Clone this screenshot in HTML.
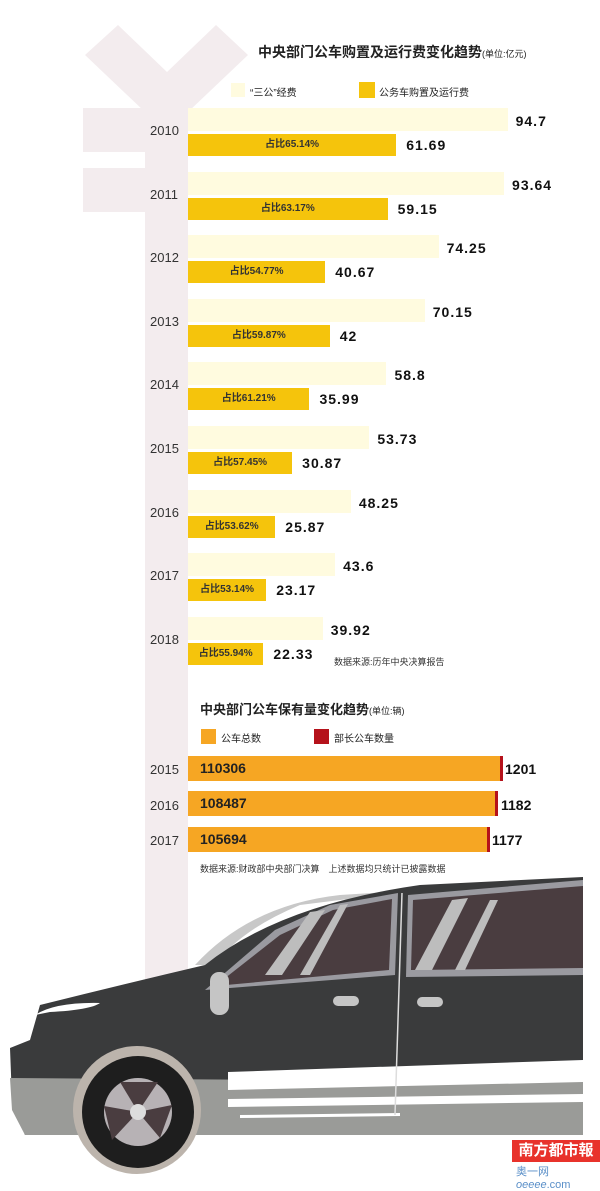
<!DOCTYPE html>
<html><head><meta charset="utf-8">
<style>
*{margin:0;padding:0;box-sizing:border-box}
body{width:600px;height:1180px;background:#fff;position:relative;overflow:hidden;font-family:"Liberation Sans","Noto Sans CJK SC",sans-serif;color:#222}
.a{position:absolute}
.yr{position:absolute;left:150px;font-size:13px;color:#333}
.lb{position:absolute;left:188px;height:23px;background:#fffbdf}
.yb{position:absolute;left:188px;height:22px;background:#f5c40c;font-size:10px;font-weight:bold;color:#333;line-height:22px;text-align:center}
.v{position:absolute;font-size:14px;font-weight:bold;letter-spacing:1px;color:#111}
.ob{position:absolute;left:188px;height:25px;background:#f6a623;font-size:14px;font-weight:bold;line-height:25px;padding-left:12px;color:#222}
.rb{position:absolute;top:0;right:-3px;width:3px;height:100%;background:#b5121b}
.ov{position:absolute;font-size:14px;font-weight:bold;color:#111}
</style></head><body>
<svg class="a" style="left:0;top:0" width="600" height="1180">
<g fill="#f3ecee">
<polygon points="85,55 118,25 167,72 216,25 248,55 188,112 145,112"/>
<rect x="145" y="100" width="43" height="880"/>
<rect x="83" y="108" width="105" height="44"/>
<rect x="83" y="168" width="105" height="44"/>
</g>
</svg>
<div class="a" style="left:258px;top:42px;font-size:14px;font-weight:bold">中央部门公车购置及运行费变化趋势<span style="font-size:9px;font-weight:normal">(单位:亿元)</span></div>
<div class="a" style="left:231px;top:83px;width:14px;height:14px;background:#fffbdf"></div>
<div class="a" style="left:250px;top:84px;font-size:10px">“三公”经费</div>
<div class="a" style="left:359px;top:82px;width:16px;height:16px;background:#f5c40c"></div>
<div class="a" style="left:379px;top:84px;font-size:10px">公务车购置及运行费</div>

<div id="rows"></div>
<script>
var d=[[2010,94.7,61.69,"65.14%"],[2011,93.64,59.15,"63.17%"],[2012,74.25,40.67,"54.77%"],[2013,70.15,42,"59.87%"],[2014,58.8,35.99,"61.21%"],[2015,53.73,30.87,"57.45%"],[2016,48.25,25.87,"53.62%"],[2017,43.6,23.17,"53.14%"],[2018,39.92,22.33,"55.94%"]];
var h="",s=3.375;
d.forEach(function(r,i){var t=108+i*63.6;var w1=r[1]*s,w2=r[2]*s;
h+='<div class="yr" style="top:'+(t+15)+'px">'+r[0]+'</div>';
h+='<div class="lb" style="top:'+t+'px;width:'+w1+'px"></div>';
h+='<div class="v" style="left:'+(188+w1+8)+'px;top:'+(t+5)+'px">'+r[1]+'</div>';
h+='<div class="yb" style="top:'+(t+26)+'px;width:'+w2+'px">占比'+r[3]+'</div>';
h+='<div class="v" style="left:'+(188+w2+10)+'px;top:'+(t+29)+'px">'+r[2]+'</div>';});
document.getElementById("rows").innerHTML=h;
</script>
<div class="a" style="left:334px;top:655px;font-size:9px;color:#333">数据来源:历年中央决算报告</div>

<div class="a" style="left:200px;top:699px;font-size:13px;font-weight:bold">中央部门公车保有量变化趋势<span style="font-size:9px;font-weight:normal">(单位:辆)</span></div>
<div class="a" style="left:201px;top:729px;width:15px;height:15px;background:#f6a623"></div>
<div class="a" style="left:221px;top:730px;font-size:10px">公车总数</div>
<div class="a" style="left:314px;top:729px;width:15px;height:15px;background:#b5121b"></div>
<div class="a" style="left:334px;top:730px;font-size:10px">部长公车数量</div>

<div class="yr" style="top:762px">2015</div>
<div class="ob" style="top:756px;width:312px">110306<div class="rb"></div></div>
<div class="ov" style="left:505px;top:761px">1201</div>
<div class="yr" style="top:798px">2016</div>
<div class="ob" style="top:791px;width:307px">108487<div class="rb"></div></div>
<div class="ov" style="left:501px;top:797px">1182</div>
<div class="yr" style="top:833px">2017</div>
<div class="ob" style="top:827px;width:299px">105694<div class="rb"></div></div>
<div class="ov" style="left:492px;top:832px">1177</div>
<div class="a" style="left:200px;top:862px;font-size:9px;color:#333">数据来源:财政部中央部门决算　上述数据均只统计已披露数据</div>

<svg class="a" style="left:0;top:0" width="600" height="1180">
<!-- roof crescent -->
<path d="M195,965 Q250,905 340,895 L420,890 L300,905 Q240,930 215,965Z" fill="#c8c8c8"/>
<!-- body -->
<path d="M10,1048 L30,1040 L40,1005 Q120,985 205,965 Q280,905 420,885 L583,877 L583,1135 L25,1135 L12,1100Z" fill="#3a3b3c"/>
<!-- headlight cut -->
<path d="M35,1015 Q55,1002 100,1003 Q90,1010 50,1012Z" fill="#fff"/>
<!-- lower gray band -->
<path d="M10,1078 L583,1082 L583,1135 L25,1135 L12,1110Z" fill="#9a9b98"/>
<!-- white stripes -->
<polygon points="228,1072 583,1060 583,1082 228,1090" fill="#fff"/>
<polygon points="228,1099 583,1094 583,1102 228,1107" fill="#fff"/>
<polygon points="240,1115 400,1113 400,1116 240,1118" fill="#fff"/>
<!-- front window -->
<polygon points="205,990 275,930 330,905 398,893 395,975" fill="#9a9aa0"/>
<polygon points="215,986 280,935 333,910 392,899 389,970" fill="#4a3d40"/>
<polygon points="265,975 310,912 325,910 282,975" fill="#bdbdbd"/>
<polygon points="300,975 340,905 348,904 310,975" fill="#bdbdbd"/>
<!-- rear window -->
<polygon points="408,895 583,880 583,975 406,977" fill="#9a9aa0"/>
<polygon points="413,900 583,886 583,968 411,970" fill="#4a3d40"/>
<polygon points="415,970 452,900 468,898 432,970" fill="#bdbdbd"/>
<polygon points="455,970 490,900 498,900 465,970" fill="#bdbdbd"/>
<!-- mirror -->
<rect x="210" y="972" width="19" height="43" rx="9" fill="#c5c5c5"/>
<rect x="333" y="996" width="26" height="10" rx="5" fill="#c5c5c5"/>
<rect x="417" y="997" width="26" height="10" rx="5" fill="#c5c5c5"/>
<line x1="402" y1="893" x2="395" y2="1115" stroke="#ddd" stroke-width="1.5"/>
<!-- wheel -->
<circle cx="137" cy="1110" r="64" fill="#bcb4ac"/>
<circle cx="138" cy="1112" r="56" fill="#1e1e1e"/>
<circle cx="138" cy="1112" r="34" fill="#b7b2b5"/>
<g fill="#4a3d40"><path d="M138,1112 L120,1082 L158,1082Z"/><path d="M138,1112 L172,1105 L160,1138Z"/><path d="M138,1112 L112,1140 L104,1106Z"/></g>
<circle cx="138" cy="1112" r="8" fill="#ddd"/>
</svg>
<div class="a" style="left:512px;top:1140px;width:88px;height:22px;background:#e8322b;color:#fff;font-size:15px;font-weight:bold;text-align:center;line-height:22px">南方都市報</div>
<div class="a" style="left:516px;top:1163px;font-size:11px;color:#5a8fc8">奥一网<i>oeeee</i>.com</div>
</body></html>
